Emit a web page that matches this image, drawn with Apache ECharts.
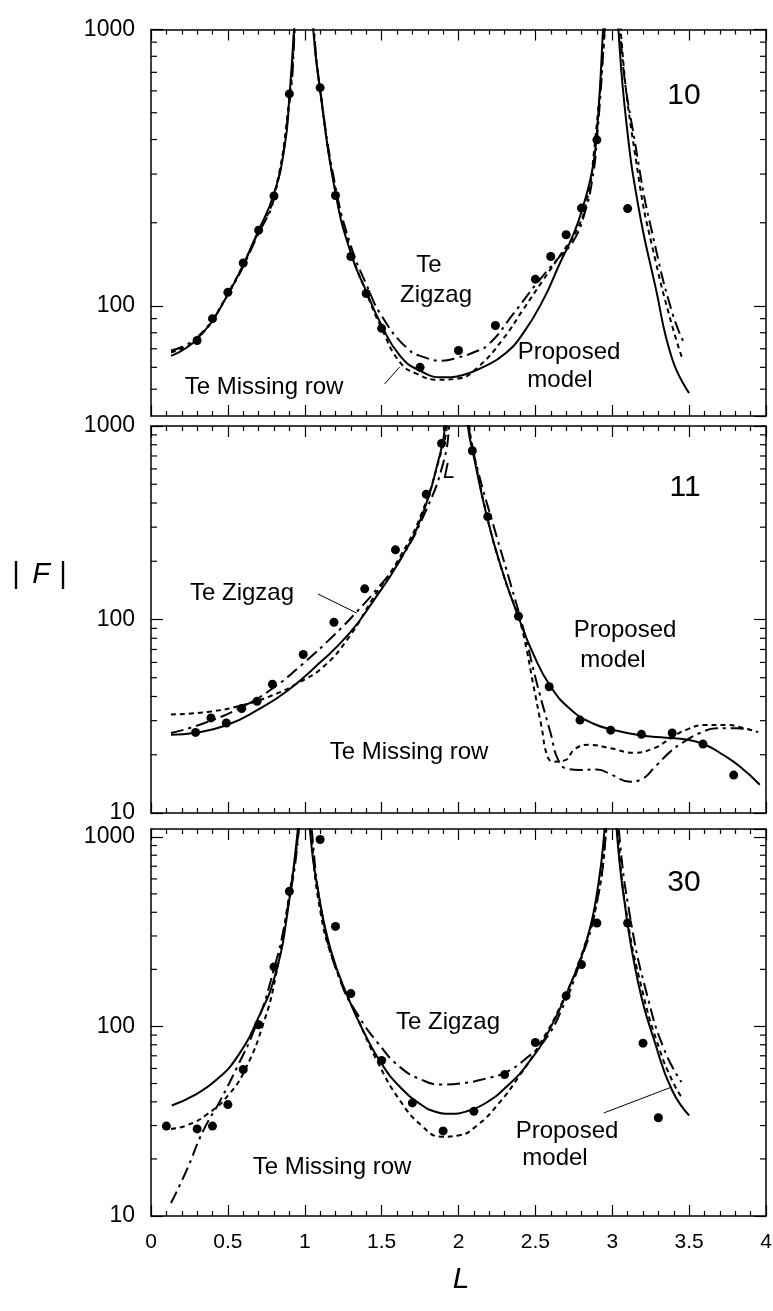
<!DOCTYPE html>
<html><head><meta charset="utf-8">
<script src="https://cdn.jsdelivr.net/npm/echarts@6/dist/echarts.min.js"></script>
<style>html,body{margin:0;padding:0;background:#fff}#c{width:773px;height:1311px}</style>
</head><body><div id="c"></div>
<script>
// ---------- data (x = L, y = |F|) ----------
const xMin = 0, xMax = 4, xStep = 0.5;
const panelNames = ['10', '11', '30'];
const yRanges = [[40, 1000], [10, 1000], [10, 1100]];
const minorTickVals = [
  [50, 60, 70, 80, 90, 200, 300, 400, 500, 600, 700, 800, 900],
  [20, 30, 40, 50, 60, 70, 80, 90, 200, 300, 400, 500, 600, 700, 800, 900],
  [20, 30, 40, 50, 60, 70, 80, 90, 200, 300, 400, 500, 600, 700, 800, 900]
];

// Panel 10
const p1Dots = [[0.30,75],[0.40,90],[0.50,112],[0.60,143],[0.70,188],[0.80,250],[0.90,585],[1.10,616],[1.20,251],[1.30,151],[1.40,111],[1.50,83],[1.75,60],[2.00,69],[2.24,85],[2.50,125],[2.60,151],[2.70,181],[2.80,226],[2.90,399],[3.10,225]];
const p1Solid = [
  [[0.13,66],[0.3,76],[0.5,110],[0.7,188],[0.8,255],[0.87,380],[0.9,570],[0.93,1000],[0.94,1400]],
  [[1.045,1400],[1.055,1000],[1.1,600],[1.2,256],[1.3,155],[1.4,113],[1.5,85],[1.62,66],[1.75,58.3],[1.9,55.2],[2.03,56.3],[2.17,60.5],[2.3,67],[2.42,79.6],[2.55,105],[2.66,143],[2.75,183],[2.81,229],[2.87,310],[2.9,422],[2.94,1000],[2.95,1400]],
  [[3.03,1400],[3.04,1000],[3.09,471],[3.17,229],[3.28,118],[3.39,64.3],[3.5,48.4]]
];
const p1DashDot = [
  [[0.13,69],[0.3,77],[0.5,110],[0.7,183],[0.8,245],[0.9,540],[0.935,1000],[0.945,1400]],
  [[1.05,1400],[1.06,1000],[1.1,610],[1.2,270],[1.3,165],[1.4,120],[1.5,92],[1.67,70],[1.78,65.2],[1.89,63.4],[2.0,65.2],[2.1,68],[2.2,73],[2.36,94.2],[2.51,121],[2.64,147],[2.75,173],[2.82,216],[2.87,286],[2.9,398],[2.95,1000],[2.96,1400]],
  [[3.04,1400],[3.05,1000],[3.17,329],[3.28,164],[3.39,94.6],[3.46,74.8]]
];
const p1Dotted = [
  [[0.13,68],[0.3,76],[0.5,111],[0.7,186],[0.8,250],[0.9,560],[0.932,1000],[0.942,1400]],
  [[1.048,1400],[1.058,1000],[1.1,605],[1.2,260],[1.3,158],[1.4,112],[1.5,83],[1.62,62.5],[1.73,56.8],[1.87,54.1],[2.0,54.7],[2.12,59.6],[2.29,76],[2.42,97],[2.55,124],[2.67,155],[2.77,188],[2.84,248],[2.88,357],[2.952,1000],[2.962,1400]],
  [[3.045,1400],[3.055,1000],[3.17,295],[3.28,147],[3.39,84.7],[3.46,63.4]]
];

// Panel 11
const p2Dots = [[0.29,26.1],[0.39,31.0],[0.49,29.2],[0.59,34.7],[0.69,37.8],[0.79,46.3],[0.99,65.9],[1.19,96.8],[1.39,144],[1.59,229],[1.79,444],[1.89,813],[2.09,745],[2.19,340],[2.39,104],[2.59,44.9],[2.79,30.2],[2.99,26.8],[3.19,25.5],[3.39,25.9],[3.59,22.7],[3.79,15.7]];
const p2Solid = [
  [[0.13,25.4],[0.29,26],[0.49,28.4],[0.69,34],[0.89,43],[1.09,59],[1.29,84.7],[1.45,126],[1.62,203],[1.76,340],[1.87,667],[1.914,1000],[1.924,1400]],
  [[2.051,1400],[2.061,1000],[2.095,722],[2.19,327],[2.29,173],[2.39,103],[2.485,66.7],[2.6,44.9],[2.735,34],[2.875,29],[3.014,26.8],[3.18,25.2],[3.35,24.5],[3.48,24],[3.6,22.6],[3.72,20],[3.83,17.4],[3.96,14]]
];
const p2DashDot = [
  [[0.13,25.9],[0.34,29],[0.59,35.3],[0.79,44],[0.99,59.2],[1.19,83],[1.34,110],[1.48,147],[1.62,203],[1.79,368],[1.9,641],[1.94,1000],[1.95,1400]],
  [[2.057,1400],[2.067,1000],[2.12,616],[2.23,301],[2.345,147],[2.43,84.7],[2.51,46.7],[2.6,25.7],[2.65,18.7],[2.71,16.9],[2.79,16.7],[2.9,16.8],[3.0,15.7],[3.115,14.5],[3.18,14.8],[3.29,17.7],[3.376,20.7],[3.484,23.8],[3.57,25.9],[3.68,27.4],[3.81,27.4],[3.94,26.3]]
];
const p2Dotted = [
  [[0.13,32.3],[0.37,33.3],[0.59,36],[0.79,40.6],[0.95,46.7],[1.12,56.9],[1.29,81.6],[1.45,131],[1.62,211],[1.76,353],[1.88,700],[1.925,1000],[1.935,1400]],
  [[2.06,1400],[2.07,1000],[2.1,720],[2.19,330],[2.29,172],[2.39,103],[2.43,78.2],[2.485,46.7],[2.54,27.9],[2.58,19.5],[2.62,18.4],[2.69,18.7],[2.76,21.5],[2.85,22.5],[2.99,21.6],[3.14,20.5],[3.27,21.6],[3.38,24.3],[3.48,26.9],[3.61,28.5],[3.74,28.5],[3.85,27.5],[3.95,26.2]]
];

// Panel 30
const p3Dots = [[0.10,29.8],[0.30,28.8],[0.40,29.8],[0.50,38.7],[0.60,59.3],[0.70,102],[0.80,206],[0.90,516],[1.10,968],[1.20,337],[1.30,149],[1.50,66.1],[1.70,39.5],[1.90,28.1],[2.10,35.7],[2.30,55.7],[2.50,82.3],[2.70,145],[2.80,212],[2.90,351],[3.10,351],[3.20,81.6],[3.30,33]];
const p3Solid = [
  [[0.135,38.3],[0.28,43.3],[0.42,51.8],[0.56,68.9],[0.7,112],[0.81,190],[0.89,410],[0.955,1100],[0.963,1500]],
  [[1.025,1500],[1.033,1100],[1.09,502],[1.17,252],[1.28,143],[1.39,91.5],[1.5,63.5],[1.62,47.9],[1.76,38.5],[1.85,35.5],[1.95,34.6],[2.05,35.6],[2.17,39.1],[2.31,47.9],[2.45,63.5],[2.59,95.3],[2.73,168],[2.84,296],[2.91,567],[2.95,1100],[2.958,1500]],
  [[3.02,1500],[3.028,1100],[3.075,482],[3.17,168],[3.28,81],[3.39,45.9],[3.5,33.9]]
];
const p3DashDot = [
  [[0.13,11.7],[0.23,17.3],[0.34,28.2],[0.45,40.6],[0.56,61],[0.67,95.3],[0.78,175],[0.89,427],[0.962,1100],[0.97,1500]],
  [[1.037,1500],[1.045,1100],[1.12,363],[1.23,175],[1.34,117],[1.48,81],[1.62,61],[1.76,52.3],[1.89,49.4],[2.03,50.2],[2.17,52.9],[2.31,57.4],[2.45,68.9],[2.56,84.3],[2.67,122],[2.78,206],[2.89,410],[2.962,1100],[2.97,1500]],
  [[3.034,1500],[3.042,1100],[3.12,363],[3.23,143],[3.34,74.7],[3.45,50.8]]
];
const p3Dotted = [
  [[0.13,28.8],[0.23,30],[0.37,34.6],[0.51,44.1],[0.62,61],[0.73,103],[0.81,182],[0.89,445],[0.96,1100],[0.968,1500]],
  [[1.032,1500],[1.04,1100],[1.1,410],[1.2,206],[1.34,112],[1.48,63.5],[1.62,40.6],[1.76,30],[1.89,26.2],[2.0,26.6],[2.12,30],[2.26,39.1],[2.39,54],[2.53,81],[2.67,132],[2.81,252],[2.91,502],[2.96,1100],[2.968,1500]],
  [[3.027,1500],[3.035,1100],[3.09,410],[3.2,149],[3.31,74.7],[3.39,51.8],[3.45,42.4]]
];

const panels = [
  {dots: p1Dots, solid: p1Solid, dashDot: p1DashDot, dotted: p1Dotted},
  {dots: p2Dots, solid: p2Solid, dashDot: p2DashDot, dotted: p2Dotted},
  {dots: p3Dots, solid: p3Solid, dashDot: p3DashDot, dotted: p3Dotted}
];

// ---------- chart ----------
const FONT = '"Liberation Sans", Arial, sans-serif';
const gridTops = [29.5, 426, 829];
const gridHeights = [386.5, 387, 387];
const grids = gridTops.map((t, i) => ({left: 151, width: 615, top: t, height: gridHeights[i], outerBoundsMode: 'none', containLabel: false}));

const axisLine = {show: true, onZero: false, lineStyle: {color: '#000', width: 1.5}};
const xAxes = [], yAxes = [];
for (let i = 0; i < 3; i++) {
  ['bottom', 'top'].forEach(pos => {
    xAxes.push({
      type: 'value', gridIndex: i, position: pos, min: xMin, max: xMax, interval: xStep,
      axisLine: axisLine,
      axisTick: {show: true, inside: true, length: 11, lineStyle: {color: '#000', width: 1.2}},
      minorTick: {show: true, splitNumber: 5, length: 5, lineStyle: {color: '#000', width: 1.2}},
      splitLine: {show: false}, minorSplitLine: {show: false},
      axisLabel: {show: (i === 2 && pos === 'bottom'), color: '#000', fontSize: 21, fontFamily: FONT, margin: 16}
    });
  });
  ['left', 'right'].forEach(pos => {
    yAxes.push({
      type: 'log', logBase: 10, gridIndex: i, position: pos, min: yRanges[i][0], max: yRanges[i][1],
      axisLine: axisLine,
      axisTick: {show: true, inside: true, length: 12, lineStyle: {color: '#000', width: 1.2}},
      splitLine: {show: false},
      axisLabel: {show: pos === 'left', color: '#000', fontSize: 23, fontFamily: FONT, margin: 16,
        showMinLabel: i !== 0, showMaxLabel: i !== 2,
        formatter: v => String(Math.round(v))}
    });
  });
}

const series = [];
panels.forEach((p, i) => {
  const ax = {xAxisIndex: 2 * i, yAxisIndex: 2 * i};
  const addCurve = (branches, type) => branches.forEach(b => series.push(Object.assign({
    type: 'line', data: b, symbol: 'none', showSymbol: false, smooth: 0.5,
    clip: true, silent: true, z: 3,
    lineStyle: {color: '#000', width: 2, type: type}
  }, ax)));
  addCurve(p.solid, 'solid');
  addCurve(p.dotted, [5, 4]);
  addCurve(p.dashDot, [13, 5, 3, 5]);
  series.push(Object.assign({type: 'scatter', data: p.dots, symbol: 'circle', symbolSize: 9,
    itemStyle: {color: '#000', opacity: 1}, z: 4, silent: true}, ax));
  series.push(Object.assign({
    type: 'custom', silent: true, z: 5,
    data: minorTickVals[i].map(v => [xMin, v]),
    encode: {x: 0, y: 1},
    renderItem: (params, api) => {
      const v = api.value(1);
      const l = api.coord([xMin, v]);
      const r = api.coord([xMax, v]);
      return {type: 'group', children: [
        {type: 'line', shape: {x1: l[0], y1: l[1], x2: l[0] + 6, y2: l[1]}, style: {stroke: '#000', lineWidth: 1.2}},
        {type: 'line', shape: {x1: r[0], y1: r[1], x2: r[0] - 6, y2: r[1]}, style: {stroke: '#000', lineWidth: 1.2}}
      ]};
    }
  }, ax));
});

function txt(text, x, y, size, italic, align) {
  return {type: 'text', z: 10, silent: true, style: {text: text, x: x, y: y, fill: '#000',
    font: (italic ? 'italic ' : '') + size + 'px ' + FONT, align: align || 'center', verticalAlign: 'middle'}};
}
function ln(x1, y1, x2, y2) {
  return {type: 'line', z: 10, silent: true, shape: {x1, y1, x2, y2}, style: {stroke: '#000', lineWidth: 1}};
}
const graphic = [
  txt(panelNames[0], 684, 96, 30), txt(panelNames[1], 685, 488, 30), txt(panelNames[2], 684, 883, 30),
  txt('Te', 429, 265, 24), txt('Zigzag', 436, 295, 24),
  txt('Proposed', 569, 352, 24), txt('model', 560, 380, 24),
  txt('Te Missing row', 264, 387, 24), ln(384.6, 384, 399.6, 367),
  txt('L', 449, 472, 22, true),
  txt('Te Zigzag', 242, 593, 24), ln(318, 594, 356.6, 613),
  txt('Proposed', 625, 630, 24), txt('model', 613, 660, 24),
  txt('Te Missing row', 409, 752, 24),
  txt('Te Zigzag', 448, 1022, 24),
  txt('Proposed', 567, 1131, 24), txt('model', 555, 1158, 24), ln(603.7, 1113, 670, 1087.7),
  txt('Te Missing row', 332, 1167, 24),
  txt('|', 16, 575, 29), txt('F', 41, 575, 29, true), txt('|', 63, 575, 29),
  txt('L', 461, 1280, 30, true)
];

const chart = echarts.init(document.getElementById('c'), null, {renderer: 'canvas'});
chart.setOption({
  animation: false, backgroundColor: '#fff',
  grid: grids, xAxis: xAxes, yAxis: yAxes, series: series, graphic: graphic
});
</script>
</body></html>
